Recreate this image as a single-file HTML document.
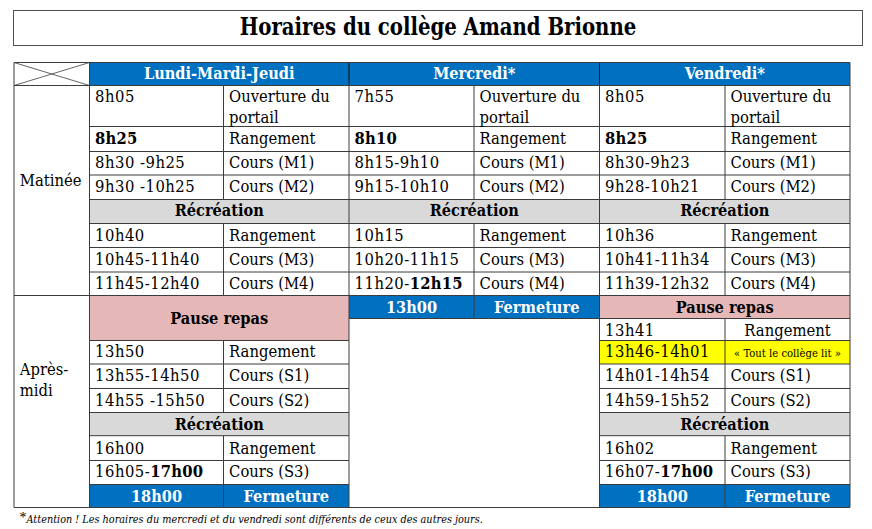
<!DOCTYPE html>
<html><head><meta charset="utf-8"><title>Horaires du collège Amand Brionne</title>
<style>
html,body{margin:0;padding:0;background:#fff;}
body{width:872px;height:529px;overflow:hidden;position:relative;font-family:"DejaVu Serif Condensed","DejaVu Serif","Liberation Serif",serif;font-stretch:condensed;color:#000;}
svg{position:absolute;left:0;top:0;}
.t{position:absolute;white-space:nowrap;line-height:normal;}
b{font-weight:bold;letter-spacing:0.2px;}
</style></head><body>
<svg width="872" height="529" viewBox="0 0 872 529">
<rect x="89.5" y="62.5" width="760.5" height="23.0" fill="#0070C0"/>
<rect x="89.5" y="199.5" width="259.5" height="24.0" fill="#D9D9D9"/>
<rect x="349" y="199.5" width="250.5" height="24.0" fill="#D9D9D9"/>
<rect x="599.5" y="199.5" width="250.5" height="24.0" fill="#D9D9D9"/>
<rect x="89.5" y="295.5" width="259.5" height="45.0" fill="#E5B8B7"/>
<rect x="349" y="295.5" width="250.5" height="23.0" fill="#0070C0"/>
<rect x="599.5" y="295.5" width="250.5" height="23.0" fill="#E5B8B7"/>
<rect x="599.5" y="340.5" width="250.5" height="23.5" fill="#FFFF00"/>
<rect x="89.5" y="412.5" width="259.5" height="23.19999999999999" fill="#D9D9D9"/>
<rect x="599.5" y="412.5" width="250.5" height="23.19999999999999" fill="#D9D9D9"/>
<rect x="89.5" y="484.5" width="259.5" height="23.0" fill="#0070C0"/>
<rect x="599.5" y="484.5" width="250.5" height="23.0" fill="#0070C0"/>
<rect x="13.5" y="10.5" width="849" height="35" fill="none" stroke="#505050" stroke-width="1"/>
<line x1="14" y1="62.5" x2="14" y2="507.5" stroke="#3c3c3c" stroke-width="1"/>
<line x1="89.5" y1="62.5" x2="89.5" y2="507.5" stroke="#3c3c3c" stroke-width="1"/>
<line x1="349" y1="85.5" x2="349" y2="507.5" stroke="#3c3c3c" stroke-width="1"/>
<line x1="349" y1="62.5" x2="349" y2="85.5" stroke="#0a0a0a" stroke-width="1"/>
<line x1="599.5" y1="85.5" x2="599.5" y2="507.5" stroke="#3c3c3c" stroke-width="1"/>
<line x1="599.5" y1="62.5" x2="599.5" y2="85.5" stroke="#1a1a1a" stroke-width="1"/>
<line x1="850" y1="62.5" x2="850" y2="507.5" stroke="#3c3c3c" stroke-width="1"/>
<line x1="223.5" y1="85.5" x2="223.5" y2="199.5" stroke="#3c3c3c" stroke-width="1"/>
<line x1="223.5" y1="223.5" x2="223.5" y2="295.5" stroke="#3c3c3c" stroke-width="1"/>
<line x1="223.5" y1="340.5" x2="223.5" y2="412.5" stroke="#3c3c3c" stroke-width="1"/>
<line x1="223.5" y1="435.7" x2="223.5" y2="507.5" stroke="#3c3c3c" stroke-width="1"/>
<line x1="474" y1="85.5" x2="474" y2="199.5" stroke="#3c3c3c" stroke-width="1"/>
<line x1="474" y1="223.5" x2="474" y2="318.5" stroke="#3c3c3c" stroke-width="1"/>
<line x1="725" y1="85.5" x2="725" y2="199.5" stroke="#3c3c3c" stroke-width="1"/>
<line x1="725" y1="223.5" x2="725" y2="295.5" stroke="#3c3c3c" stroke-width="1"/>
<line x1="725" y1="318.5" x2="725" y2="412.5" stroke="#3c3c3c" stroke-width="1"/>
<line x1="725" y1="435.7" x2="725" y2="507.5" stroke="#3c3c3c" stroke-width="1"/>
<line x1="14" y1="62.5" x2="850" y2="62.5" stroke="#3c3c3c" stroke-width="1"/>
<line x1="14" y1="85.5" x2="850" y2="85.5" stroke="#3c3c3c" stroke-width="1"/>
<line x1="89.5" y1="126.5" x2="850" y2="126.5" stroke="#3c3c3c" stroke-width="1"/>
<line x1="89.5" y1="151.5" x2="850" y2="151.5" stroke="#3c3c3c" stroke-width="1"/>
<line x1="89.5" y1="175" x2="850" y2="175" stroke="#3c3c3c" stroke-width="1"/>
<line x1="89.5" y1="199.5" x2="850" y2="199.5" stroke="#3c3c3c" stroke-width="1"/>
<line x1="89.5" y1="223.5" x2="850" y2="223.5" stroke="#3c3c3c" stroke-width="1"/>
<line x1="89.5" y1="247.5" x2="850" y2="247.5" stroke="#3c3c3c" stroke-width="1"/>
<line x1="89.5" y1="272" x2="850" y2="272" stroke="#3c3c3c" stroke-width="1"/>
<line x1="14" y1="295.5" x2="850" y2="295.5" stroke="#3c3c3c" stroke-width="1"/>
<line x1="349" y1="318.5" x2="850" y2="318.5" stroke="#3c3c3c" stroke-width="1"/>
<line x1="89.5" y1="340.5" x2="349" y2="340.5" stroke="#3c3c3c" stroke-width="1"/>
<line x1="599.5" y1="340.5" x2="850" y2="340.5" stroke="#3c3c3c" stroke-width="1"/>
<line x1="89.5" y1="364" x2="349" y2="364" stroke="#3c3c3c" stroke-width="1"/>
<line x1="599.5" y1="364" x2="850" y2="364" stroke="#3c3c3c" stroke-width="1"/>
<line x1="89.5" y1="388.5" x2="349" y2="388.5" stroke="#3c3c3c" stroke-width="1"/>
<line x1="599.5" y1="388.5" x2="850" y2="388.5" stroke="#3c3c3c" stroke-width="1"/>
<line x1="89.5" y1="412.5" x2="349" y2="412.5" stroke="#3c3c3c" stroke-width="1"/>
<line x1="599.5" y1="412.5" x2="850" y2="412.5" stroke="#3c3c3c" stroke-width="1"/>
<line x1="89.5" y1="435.7" x2="349" y2="435.7" stroke="#3c3c3c" stroke-width="1"/>
<line x1="599.5" y1="435.7" x2="850" y2="435.7" stroke="#3c3c3c" stroke-width="1"/>
<line x1="89.5" y1="460.5" x2="349" y2="460.5" stroke="#3c3c3c" stroke-width="1"/>
<line x1="599.5" y1="460.5" x2="850" y2="460.5" stroke="#3c3c3c" stroke-width="1"/>
<line x1="89.5" y1="484.5" x2="349" y2="484.5" stroke="#3c3c3c" stroke-width="1"/>
<line x1="599.5" y1="484.5" x2="850" y2="484.5" stroke="#3c3c3c" stroke-width="1"/>
<line x1="14" y1="507.5" x2="850" y2="507.5" stroke="#3c3c3c" stroke-width="1"/>
<line x1="14" y1="62.5" x2="89.5" y2="85.5" stroke="#3c3c3c" stroke-width="0.8"/>
<line x1="14" y1="85.5" x2="89.5" y2="62.5" stroke="#3c3c3c" stroke-width="0.8"/>
</svg>
<div class="t" style="left:13.5px;width:849px;text-align:center;top:13.74px;font-size:21.9px;font-weight:bold;transform:scaleY(1.07);transform-origin:50% 20.56px;">Horaires du collège Amand Brionne</div>
<div class="t" style="top:63.79px;font-size:16.2px;font-weight:bold;color:#fff;left:89.50px;width:259.50px;text-align:center;">Lundi-Mardi-Jeudi</div>
<div class="t" style="top:63.79px;font-size:16.2px;font-weight:bold;color:#fff;left:349.00px;width:250.50px;text-align:center;">Mercredi*</div>
<div class="t" style="top:63.79px;font-size:16.2px;font-weight:bold;color:#fff;left:599.50px;width:250.50px;text-align:center;">Vendredi*</div>
<div class="t" style="top:170.73px;font-size:16.45px;left:19.80px;">Matinée</div>
<div class="t" style="top:359.73px;font-size:16.45px;left:19.80px;">Après-</div>
<div class="t" style="top:380.73px;font-size:16.45px;left:19.80px;">midi</div>
<div class="t" style="top:86.83px;font-size:16.45px;left:95.10px;"><span style="letter-spacing:0.5px">8h05</span></div>
<div class="t" style="top:86.83px;font-size:16.45px;left:229.10px;">Ouverture du</div>
<div class="t" style="top:86.83px;font-size:16.45px;left:354.60px;"><span style="letter-spacing:0.5px">7h55</span></div>
<div class="t" style="top:86.83px;font-size:16.45px;left:479.60px;">Ouverture du</div>
<div class="t" style="top:86.83px;font-size:16.45px;left:605.10px;"><span style="letter-spacing:0.5px">8h05</span></div>
<div class="t" style="top:86.83px;font-size:16.45px;left:730.60px;">Ouverture du</div>
<div class="t" style="top:107.93px;font-size:16.45px;left:229.10px;">portail</div>
<div class="t" style="top:107.93px;font-size:16.45px;left:479.60px;">portail</div>
<div class="t" style="top:107.93px;font-size:16.45px;left:730.60px;">portail</div>
<div class="t" style="top:129.38px;font-size:16.45px;left:95.10px;"><span style="letter-spacing:0.5px"><b>8h25</b></span></div>
<div class="t" style="top:129.38px;font-size:16.45px;left:229.10px;">Rangement</div>
<div class="t" style="top:129.38px;font-size:16.45px;left:354.60px;"><span style="letter-spacing:0.5px"><b>8h10</b></span></div>
<div class="t" style="top:129.38px;font-size:16.45px;left:479.60px;">Rangement</div>
<div class="t" style="top:129.38px;font-size:16.45px;left:605.10px;"><span style="letter-spacing:0.5px"><b>8h25</b></span></div>
<div class="t" style="top:129.38px;font-size:16.45px;left:730.60px;">Rangement</div>
<div class="t" style="top:152.93px;font-size:16.45px;left:95.10px;"><span style="letter-spacing:0.5px">8h30 -9h25</span></div>
<div class="t" style="top:152.93px;font-size:16.45px;left:229.10px;">Cours (M1)</div>
<div class="t" style="top:152.93px;font-size:16.45px;left:354.60px;"><span style="letter-spacing:0.5px">8h15-9h10</span></div>
<div class="t" style="top:152.93px;font-size:16.45px;left:479.60px;">Cours (M1)</div>
<div class="t" style="top:152.93px;font-size:16.45px;left:605.10px;"><span style="letter-spacing:0.5px">8h30-9h23</span></div>
<div class="t" style="top:152.93px;font-size:16.45px;left:730.60px;">Cours (M1)</div>
<div class="t" style="top:176.53px;font-size:16.45px;left:95.10px;"><span style="letter-spacing:0.5px">9h30 -10h25</span></div>
<div class="t" style="top:176.53px;font-size:16.45px;left:229.10px;">Cours (M2)</div>
<div class="t" style="top:176.53px;font-size:16.45px;left:354.60px;"><span style="letter-spacing:0.5px">9h15-10h10</span></div>
<div class="t" style="top:176.53px;font-size:16.45px;left:479.60px;">Cours (M2)</div>
<div class="t" style="top:176.53px;font-size:16.45px;left:605.10px;"><span style="letter-spacing:0.5px">9h28-10h21</span></div>
<div class="t" style="top:176.53px;font-size:16.45px;left:730.60px;">Cours (M2)</div>
<div class="t" style="top:225.83px;font-size:16.45px;left:95.10px;"><span style="letter-spacing:0.5px">10h40</span></div>
<div class="t" style="top:225.83px;font-size:16.45px;left:229.10px;">Rangement</div>
<div class="t" style="top:225.83px;font-size:16.45px;left:354.60px;"><span style="letter-spacing:0.5px">10h15</span></div>
<div class="t" style="top:225.83px;font-size:16.45px;left:479.60px;">Rangement</div>
<div class="t" style="top:225.83px;font-size:16.45px;left:605.10px;"><span style="letter-spacing:0.5px">10h36</span></div>
<div class="t" style="top:225.83px;font-size:16.45px;left:730.60px;">Rangement</div>
<div class="t" style="top:250.33px;font-size:16.45px;left:95.10px;"><span style="letter-spacing:0.5px">10h45-11h40</span></div>
<div class="t" style="top:250.33px;font-size:16.45px;left:229.10px;">Cours (M3)</div>
<div class="t" style="top:250.33px;font-size:16.45px;left:354.60px;"><span style="letter-spacing:0.5px">10h20-11h15</span></div>
<div class="t" style="top:250.33px;font-size:16.45px;left:479.60px;">Cours (M3)</div>
<div class="t" style="top:250.33px;font-size:16.45px;left:605.10px;"><span style="letter-spacing:0.5px">10h41-11h34</span></div>
<div class="t" style="top:250.33px;font-size:16.45px;left:730.60px;">Cours (M3)</div>
<div class="t" style="top:273.83px;font-size:16.45px;left:95.10px;"><span style="letter-spacing:0.5px">11h45-12h40</span></div>
<div class="t" style="top:273.83px;font-size:16.45px;left:229.10px;">Cours (M4)</div>
<div class="t" style="top:273.83px;font-size:16.45px;left:354.60px;"><span style="letter-spacing:0.5px">11h20-<b>12h15</b></span></div>
<div class="t" style="top:273.83px;font-size:16.45px;left:479.60px;">Cours (M4)</div>
<div class="t" style="top:273.83px;font-size:16.45px;left:605.10px;"><span style="letter-spacing:0.5px">11h39-12h32</span></div>
<div class="t" style="top:273.83px;font-size:16.45px;left:730.60px;">Cours (M4)</div>
<div class="t" style="top:201.19px;font-size:16.2px;font-weight:bold;left:89.50px;width:259.50px;text-align:center;">Récréation</div>
<div class="t" style="top:201.19px;font-size:16.2px;font-weight:bold;left:349.00px;width:250.50px;text-align:center;">Récréation</div>
<div class="t" style="top:201.19px;font-size:16.2px;font-weight:bold;left:599.50px;width:250.50px;text-align:center;">Récréation</div>
<div class="t" style="top:308.79px;font-size:16.2px;font-weight:bold;left:89.50px;width:259.50px;text-align:center;">Pause repas</div>
<div class="t" style="top:342.33px;font-size:16.45px;left:95.10px;"><span style="letter-spacing:0.5px">13h50</span></div>
<div class="t" style="top:342.33px;font-size:16.45px;left:229.10px;">Rangement</div>
<div class="t" style="top:365.83px;font-size:16.45px;left:95.10px;"><span style="letter-spacing:0.5px">13h55-14h50</span></div>
<div class="t" style="top:365.83px;font-size:16.45px;left:229.10px;">Cours (S1)</div>
<div class="t" style="top:390.53px;font-size:16.45px;left:95.10px;"><span style="letter-spacing:0.5px">14h55 -15h50</span></div>
<div class="t" style="top:390.53px;font-size:16.45px;left:229.10px;">Cours (S2)</div>
<div class="t" style="top:438.73px;font-size:16.45px;left:95.10px;"><span style="letter-spacing:0.5px">16h00</span></div>
<div class="t" style="top:438.73px;font-size:16.45px;left:229.10px;">Rangement</div>
<div class="t" style="top:462.03px;font-size:16.45px;left:95.10px;"><span style="letter-spacing:0.5px">16h05-<b>17h00</b></span></div>
<div class="t" style="top:462.03px;font-size:16.45px;left:229.10px;">Cours (S3)</div>
<div class="t" style="top:414.69px;font-size:16.2px;font-weight:bold;left:89.50px;width:259.50px;text-align:center;">Récréation</div>
<div class="t" style="top:486.79px;font-size:16.2px;font-weight:bold;color:#fff;left:89.50px;width:134.00px;text-align:center;">18h00</div>
<div class="t" style="top:486.79px;font-size:16.2px;font-weight:bold;color:#fff;left:223.50px;width:125.50px;text-align:center;">Fermeture</div>
<div class="t" style="top:297.59px;font-size:16.2px;font-weight:bold;color:#fff;left:349.00px;width:125.00px;text-align:center;">13h00</div>
<div class="t" style="top:297.59px;font-size:16.2px;font-weight:bold;color:#fff;left:474.00px;width:125.50px;text-align:center;">Fermeture</div>
<div class="t" style="top:297.59px;font-size:16.2px;font-weight:bold;left:599.50px;width:250.50px;text-align:center;">Pause repas</div>
<div class="t" style="top:320.93px;font-size:16.45px;left:605.10px;"><span style="letter-spacing:0.5px">13h41</span></div>
<div class="t" style="top:320.93px;font-size:16.45px;left:725.00px;width:125.00px;text-align:center;">Rangement</div>
<div class="t" style="top:341.73px;font-size:16.45px;left:605.10px;"><span style="letter-spacing:0.5px">13h46-14h01</span></div>
<div class="t" style="top:347.10px;font-size:11.2px;left:725.00px;width:125.00px;text-align:center;">« Tout le collège lit »</div>
<div class="t" style="top:366.13px;font-size:16.45px;left:605.10px;"><span style="letter-spacing:0.5px">14h01-14h54</span></div>
<div class="t" style="top:366.13px;font-size:16.45px;left:730.60px;">Cours (S1)</div>
<div class="t" style="top:390.53px;font-size:16.45px;left:605.10px;"><span style="letter-spacing:0.5px">14h59-15h52</span></div>
<div class="t" style="top:390.53px;font-size:16.45px;left:730.60px;">Cours (S2)</div>
<div class="t" style="top:438.73px;font-size:16.45px;left:605.10px;"><span style="letter-spacing:0.5px">16h02</span></div>
<div class="t" style="top:438.73px;font-size:16.45px;left:730.60px;">Rangement</div>
<div class="t" style="top:462.03px;font-size:16.45px;left:605.10px;"><span style="letter-spacing:0.5px">16h07-<b>17h00</b></span></div>
<div class="t" style="top:462.03px;font-size:16.45px;left:730.60px;">Cours (S3)</div>
<div class="t" style="top:414.69px;font-size:16.2px;font-weight:bold;left:599.50px;width:250.50px;text-align:center;">Récréation</div>
<div class="t" style="top:486.79px;font-size:16.2px;font-weight:bold;color:#fff;left:599.50px;width:125.50px;text-align:center;">18h00</div>
<div class="t" style="top:486.79px;font-size:16.2px;font-weight:bold;color:#fff;left:725.00px;width:125.00px;text-align:center;">Fermeture</div>
<div class="t" style="left:19.4px;top:509.53px;font-size:14px;font-family:'Liberation Serif',serif;">*</div>
<div class="t" style="top:513.18px;font-size:10.8px;font-style:italic;left:26.50px;">Attention ! Les horaires du mercredi et du vendredi sont différents de ceux des autres jours.</div>
</body></html>
